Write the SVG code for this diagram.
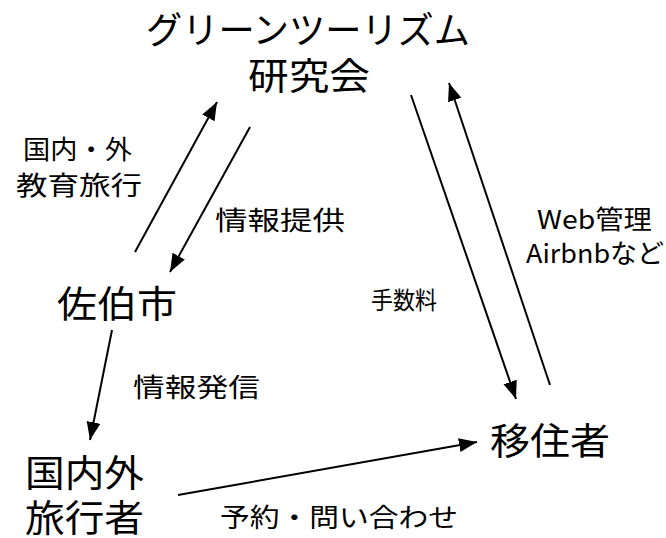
<svg xmlns="http://www.w3.org/2000/svg" width="666" height="538" viewBox="0 0 666 538">
<style>
text{font-family:"Noto Sans CJK JP","Noto Sans",sans-serif;fill:#000}
.big{font-size:37px}
.lbl{font-size:26px}
.edge{stroke:#000;stroke-width:2;fill:none;marker-end:url(#arr)}
</style>
<defs>
<marker id="arr" markerUnits="userSpaceOnUse" markerWidth="20" markerHeight="16" refX="18" refY="7" orient="auto">
<path d="M0,0 L18,7 L0,14 z" fill="#000"/>
</marker>
</defs>
<rect width="666" height="538" fill="#fff"/>
<g id="node-kenkyukai">
<text class="big" x="146" y="44" textLength="324" lengthAdjust="spacingAndGlyphs">グリーンツーリズム</text>
<text class="big" x="248" y="90" textLength="122" lengthAdjust="spacingAndGlyphs">研究会</text>
</g>
<g id="node-saiki">
<text class="big" x="57" y="318" textLength="120" lengthAdjust="spacingAndGlyphs">佐伯市</text>
</g>
<g id="node-ijusha">
<text class="big" x="490" y="455" textLength="120" lengthAdjust="spacingAndGlyphs">移住者</text>
</g>
<g id="node-ryokosha">
<text class="big" x="25" y="487" textLength="119" lengthAdjust="spacingAndGlyphs">国内外</text>
<text class="big" x="25" y="532" textLength="119" lengthAdjust="spacingAndGlyphs">旅行者</text>
</g>
<g id="connectors">
<line class="edge" x1="135" y1="252" x2="217" y2="102"/>
<line class="edge" x1="250" y1="127" x2="170" y2="272"/>
<line class="edge" x1="411" y1="95" x2="516" y2="399"/>
<line class="edge" x1="550" y1="385" x2="449" y2="83"/>
<line class="edge" x1="112" y1="330" x2="90" y2="440"/>
<line class="edge" x1="178" y1="495" x2="477" y2="442"/>
</g>
<g id="edge-labels">
<text class="lbl" x="23" y="159" textLength="109" lengthAdjust="spacingAndGlyphs">国内・外</text>
<text class="lbl" x="16" y="195" textLength="126" lengthAdjust="spacingAndGlyphs">教育旅行</text>
<text class="lbl" x="215" y="230" textLength="130" lengthAdjust="spacingAndGlyphs">情報提供</text>
<text class="lbl" x="537" y="229" textLength="115" lengthAdjust="spacingAndGlyphs">Web管理</text>
<text class="lbl" x="526" y="263" textLength="138" lengthAdjust="spacingAndGlyphs">Airbnbなど</text>
<text class="lbl" x="371" y="309" style="font-size:24px" textLength="66" lengthAdjust="spacingAndGlyphs">手数料</text>
<text class="lbl" x="133" y="397" textLength="127" lengthAdjust="spacingAndGlyphs">情報発信</text>
<text class="lbl" x="220" y="527" textLength="238" lengthAdjust="spacingAndGlyphs">予約・問い合わせ</text>
</g>
</svg>
